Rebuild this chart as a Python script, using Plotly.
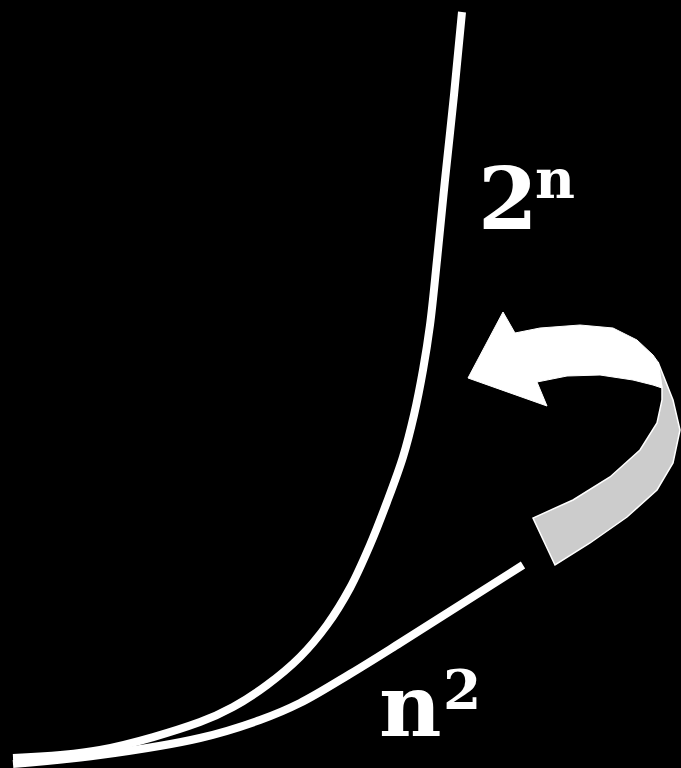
import plotly.graph_objects as go

# curves (pixel-like coordinates, y grows downward)
exp_x = [13, 100, 200, 233, 267, 300, 327, 350, 370, 387, 403, 414, 423, 430, 437, 445, 454, 462]
exp_y = [758, 750, 722, 707, 685, 657, 625, 588, 545, 502, 457, 415, 370, 325, 260, 180, 95, 12]

sq_x = [13, 100, 200, 260, 300, 350, 400, 523]
sq_y = [764, 755, 738, 720, 703, 674, 643, 565]

# curved arrow outline
head_x = [468, 503, 515, 540, 580, 613, 637, 653, 658, 662, 653, 633, 600, 567, 537, 547, 468]
head_y = [378, 312, 333, 328, 325, 328, 340, 355, 362, 388, 385, 380, 375, 376, 382, 406, 378]

band_x = [658, 673, 680, 673, 657, 627, 590, 555, 533, 573, 610, 640, 657, 662, 662, 658]
band_y = [362, 400, 430, 463, 490, 517, 543, 565, 518, 500, 477, 450, 423, 400, 388, 362]

fig = go.Figure()

fig.add_trace(go.Scatter(x=band_x, y=band_y, mode='lines', fill='toself',
                         fillcolor='#cccccc', line=dict(color='white', width=1.5)))
fig.add_trace(go.Scatter(x=head_x, y=head_y, mode='lines', fill='toself',
                         fillcolor='white', line=dict(color='white', width=1)))

fig.add_trace(go.Scatter(x=exp_x, y=exp_y, mode='lines', line=dict(color='white', width=8, shape='spline')))
fig.add_trace(go.Scatter(x=sq_x, y=sq_y, mode='lines', line=dict(color='white', width=8, shape='spline')))

big = dict(family='DejaVu Serif', size=86, color='white')
small = dict(family='DejaVu Serif', size=55, color='white')
fig.add_annotation(x=508, y=198, text='<b>2</b>', font=big, showarrow=False)
fig.add_annotation(x=555, y=178, text='<b>n</b>', font=small, showarrow=False)
fig.add_annotation(x=410, y=705, text='<b>n</b>', font=big, showarrow=False, borderpad=0)
fig.add_annotation(x=462, y=689, text='<b>2</b>', font=small, showarrow=False, borderpad=0)

fig.update_layout(
    width=681, height=768,
    margin=dict(l=0, r=0, t=0, b=0),
    paper_bgcolor='black', plot_bgcolor='black',
    showlegend=False,
    xaxis=dict(range=[0, 681], visible=False, fixedrange=True),
    yaxis=dict(range=[768, 0], visible=False, fixedrange=True),
)

fig.write_html("out.html", config={'displayModeBar': False},
               post_script="document.body.style.margin='0';document.body.style.background='black';")
